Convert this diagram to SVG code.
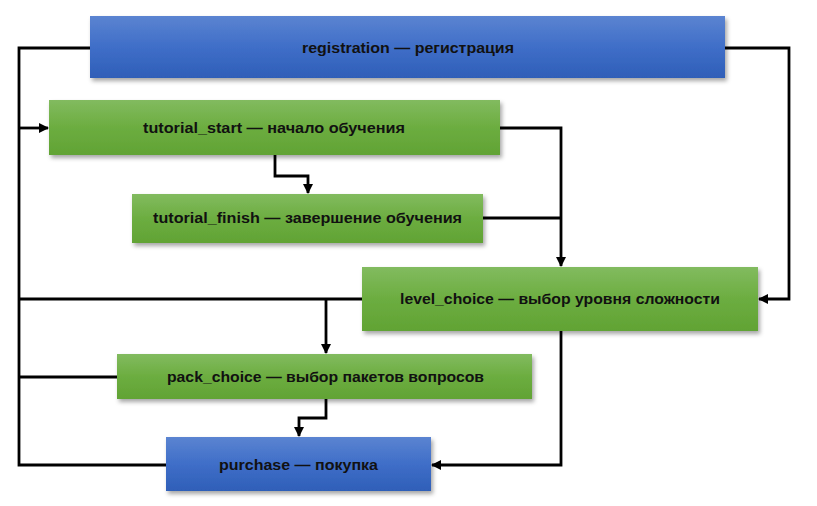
<svg xmlns="http://www.w3.org/2000/svg" width="817" height="506" viewBox="0 0 817 506">
<defs>
<linearGradient id="gBlue" x1="0" y1="0" x2="0" y2="1">
<stop offset="0" stop-color="#5b84d1"/>
<stop offset="0.5" stop-color="#3f6ec8"/>
<stop offset="1" stop-color="#2f5fb8"/>
</linearGradient>
<linearGradient id="gGreen" x1="0" y1="0" x2="0" y2="1">
<stop offset="0" stop-color="#82bb5f"/>
<stop offset="0.5" stop-color="#6cad40"/>
<stop offset="1" stop-color="#61a334"/>
</linearGradient>
<filter id="sh" x="-5%" y="-20%" width="112%" height="150%">
<feDropShadow dx="2" dy="3" stdDeviation="2" flood-color="#000" flood-opacity="0.35"/>
</filter>
<marker id="arr" viewBox="0 0 10 10" refX="9" refY="5" markerWidth="3.6" markerHeight="3.6" orient="auto" markerUnits="strokeWidth">
<path d="M0,0 L10,5 L0,10 z" fill="#000"/>
</marker>
</defs>
<style>
.blue{fill:url(#gBlue);filter:url(#sh)}
.green{fill:url(#gGreen);filter:url(#sh)}
text{font-family:"Liberation Sans",Arial,sans-serif;font-weight:bold;font-size:15px;fill:#111;text-anchor:middle}
.c{fill:none;stroke:#000;stroke-width:2.8}
.a{marker-end:url(#arr)}
</style>
<rect width="817" height="506" fill="#fff"/>
<g id="connectors">
<path class="c" d="M90,48 H19 V465 H166"/>
<path class="c a" d="M19,128 H48"/>
<path class="c" d="M362,299 H19"/>
<path class="c" d="M117,377 H19"/>
<path class="c a" d="M326,299 V353"/>
<path class="c a" d="M725,48 H789 V299 H759"/>
<path class="c a" d="M500,128 H561 V266"/>
<path class="c" d="M483,218 H561"/>
<path class="c a" d="M275,155 V176 H308 V193"/>
<path class="c a" d="M326,399 V418 H299 V436"/>
<path class="c a" d="M561,331 V465 H432"/>
</g>
<g id="registration">
<rect class="blue" x="90" y="16" width="635" height="62"/>
<text x="408" y="53" textLength="212" lengthAdjust="spacingAndGlyphs">registration — регистрация</text>
</g>
<g id="tutorial_start">
<rect class="green" x="49" y="100" width="451" height="55"/>
<text x="274" y="133" textLength="262" lengthAdjust="spacingAndGlyphs">tutorial_start — начало обучения</text>
</g>
<g id="tutorial_finish">
<rect class="green" x="132" y="194" width="351" height="49"/>
<text x="307.5" y="223" textLength="309" lengthAdjust="spacingAndGlyphs">tutorial_finish — завершение обучения</text>
</g>
<g id="level_choice">
<rect class="green" x="362" y="267" width="396" height="64"/>
<text x="560" y="304" textLength="320" lengthAdjust="spacingAndGlyphs">level_choice — выбор уровня сложности</text>
</g>
<g id="pack_choice">
<rect class="green" x="117" y="354" width="415" height="45"/>
<text x="325.5" y="382" textLength="317" lengthAdjust="spacingAndGlyphs">pack_choice — выбор пакетов вопросов</text>
</g>
<g id="purchase">
<rect class="blue" x="166" y="437" width="265" height="54"/>
<text x="298.5" y="470" textLength="159" lengthAdjust="spacingAndGlyphs">purchase — покупка</text>
</g>
</svg>
